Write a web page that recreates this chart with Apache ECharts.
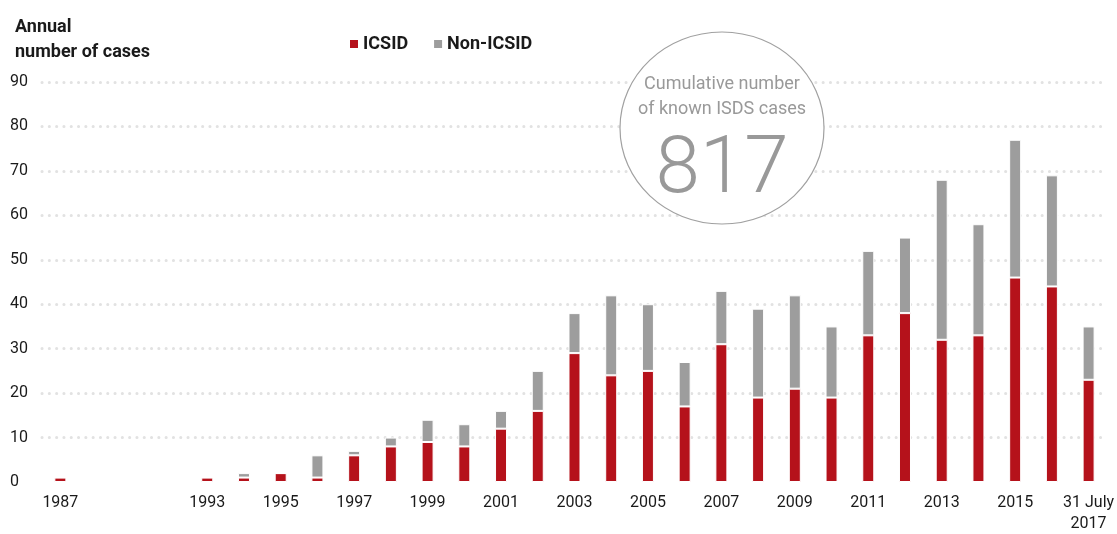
<!DOCTYPE html>
<html>
<head>
<meta charset="utf-8">
<script src="https://cdn.jsdelivr.net/npm/echarts@6/dist/echarts.min.js"></script>
<style>
  html, body { margin: 0; padding: 0; background: #fff; }
  #main { width: 1117px; height: 534px; }
</style>
</head>
<body>
<div id="main"></div>
<script>
// categories (1988-1992 folded into a short gap, as in the original)
var years = ['1987', '', '', '', '1993', '1994', '1995', '1996', '1997', '1998', '1999', '2000',
  '2001', '2002', '2003', '2004', '2005', '2006', '2007', '2008', '2009', '2010', '2011', '2012',
  '2013', '2014', '2015', '2016', '31 July\n2017'];
// which ticks get a label
var shownLabels = ['1987', '1993', '1995', '1997', '1999', '2001', '2003', '2005', '2007',
  '2009', '2011', '2013', '2015', '31 July\n2017'];
var icsid = [1, null, null, null, 1, 1, 2, 1, 6, 8, 9, 8, 12, 16, 29, 24, 25, 17, 31, 19, 21,
  19, 33, 38, 32, 33, 46, 44, 23];
var nonIcsid = [0, null, null, null, 0, 1, 0, 5, 1, 2, 5, 5, 4, 9, 9, 18, 15, 10, 12, 20, 21,
  16, 19, 17, 36, 25, 31, 25, 12];
var yTicks = [0, 90, 10];   // min, max, step
var cumulative = '817';

var FONT = 'Roboto, "Liberation Sans", sans-serif';
var RED = '#b5121b';
var GREY = '#9d9d9d';

// no dotted line on the zero level, dotted lines above
var gridColors = ['rgba(0,0,0,0)'];
for (var i = 1; i <= 9; i++) gridColors.push('#e2e2e2');

var myChart = echarts.init(document.getElementById('main'));
var option = {
    animation: false,
    textStyle: { fontFamily: FONT },
    title: {
        text: 'Annual\nnumber of cases',
        left: 10,
        top: 10,
        textStyle: { fontFamily: FONT, fontSize: 18, fontWeight: 'bold', color: '#1a1a1a', lineHeight: 25 }
    },
    legend: {
        left: 343,
        top: 30,
        itemWidth: 10,
        itemHeight: 10,
        itemGap: 24,
        icon: 'rect',
        textStyle: { fontFamily: FONT, fontSize: 18, fontWeight: 'bold', color: '#1a1a1a', padding: [0, 0, 0, -1] },
        data: ['ICSID', 'Non-ICSID']
    },
    grid: { left: 42, right: 2, top: 82, bottom: 50, containLabel: false },
    xAxis: {
        type: 'category',
        data: years,
        axisLine: { show: false },
        axisTick: { show: false },
        axisLabel: {
            interval: 0,
            margin: 10,
            fontSize: 16,
            color: '#1a1a1a',
            lineHeight: 21,
            formatter: function (v) { return shownLabels.indexOf(v) >= 0 ? v : ''; }
        }
    },
    yAxis: {
        type: 'value',
        min: yTicks[0],
        max: yTicks[1],
        interval: yTicks[2],
        axisLine: { show: false },
        axisTick: { show: false },
        axisLabel: { fontSize: 16, color: '#1a1a1a', align: 'left', margin: 32 },
        splitLine: {
            show: true,
            lineStyle: { color: gridColors, width: 3, type: [0.1, 7.2], cap: 'round' }
        }
    },
    graphic: [
        {
            type: 'ellipse',
            shape: { cx: 722, cy: 128, rx: 102, ry: 96 },
            style: { fill: '#fff', stroke: '#a0a0a0', lineWidth: 1.2 },
            z: 50
        },
        {
            type: 'text',
            x: 722, y: 97,
            style: {
                text: 'Cumulative number\nof known ISDS cases',
                fill: '#999', font: '18px ' + FONT, align: 'center', verticalAlign: 'middle', lineHeight: 25
            },
            z: 51
        },
        {
            type: 'text',
            x: 722, y: 172,
            style: {
                text: cumulative,
                fill: '#999', font: '300 80px Roboto, sans-serif', align: 'center', verticalAlign: 'middle'
            },
            z: 51
        }
    ],
    series: [
        {
            name: 'ICSID',
            type: 'bar',
            stack: 'cases',
            barWidth: 12,
            itemStyle: { color: RED, borderColor: '#fff', borderWidth: 1 },
            data: icsid
        },
        {
            name: 'Non-ICSID',
            type: 'bar',
            stack: 'cases',
            barWidth: 12,
            itemStyle: { color: GREY, borderColor: '#fff', borderWidth: 1 },
            data: nonIcsid
        }
    ]
};
myChart.setOption(option);
window.onresize = myChart.resize;
</script>
</body>
</html>
